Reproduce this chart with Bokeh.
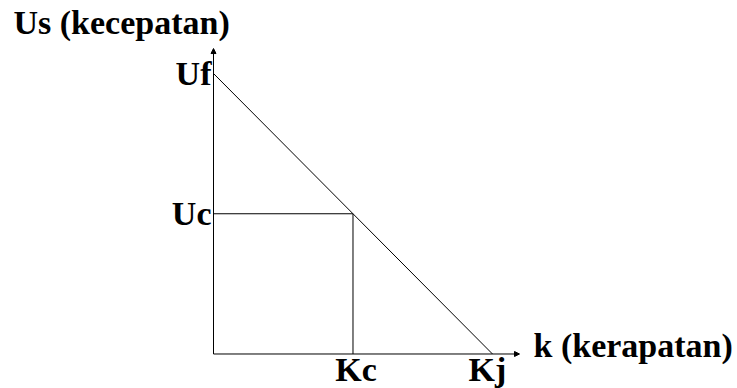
from bokeh.plotting import figure
from bokeh.models import Range1d, Arrow, NormalHead
from bokeh.core.properties import value
from bokeh.embed import file_html
from bokeh.resources import INLINE

# Greenshields speed-density relationship (normalised units)
k_labels = ["Kc", "Kj"]
k_values = [1.0, 2.0]          # Kc, Kj
us_labels = ["Uf", "Uc"]
us_values = [2.0, 1.0]         # Uf, Uc
axis_end_x = 2.1935
axis_end_y = 2.178
x_title = "k (kerapatan)"
y_title = "Us (kecepatan)"

W, H = 737, 388
p = figure(width=W, height=H, output_backend="svg", toolbar_location=None,
           x_range=Range1d(-1.5269, 3.7563), y_range=Range1d(-0.24599, 2.52050),
           min_border=0, min_border_left=0, min_border_right=0,
           min_border_top=0, min_border_bottom=0)
p.axis.visible = False
p.grid.visible = False
p.outline_line_color = None
p.background_fill_color = "white"
p.border_fill_color = "white"

FONT = value("Liberation Serif")
FS = value("34px")
LC = "black"

Kc, Kj = k_values
Uf, Uc = us_values

# axes with arrow heads
for xe, ye in [(axis_end_x, 0), (0, axis_end_y)]:
    p.add_layout(Arrow(end=NormalHead(size=5, fill_color=LC, line_color=LC, line_width=1),
                       x_start=0, y_start=0, x_end=xe, y_end=ye,
                       line_color=LC, line_width=1))

# speed-density line
p.line([0, Kc, Kj], [Uf, Uc, 0], line_color=LC, line_width=1)
# critical point guides
p.line([0, Kc], [Uc, Uc], line_color=LC, line_width=1)
p.line([Kc, Kc], [Uc, 0], line_color=LC, line_width=1)

common = dict(text_font=FONT, text_font_size=FS, text_font_style="bold",
              text_color="black", text_baseline="alphabetic")

# tick-like labels
p.text(x=[0] * len(us_values), y=us_values, text=us_labels,
       text_align="right", x_offset=-2, y_offset=0, **common)
k_label_dx = [3, -5]
for lab, v, dx in zip(k_labels, k_values, k_label_dx):
    p.text(x=[v], y=[0], text=[lab], text_align="center",
           x_offset=dx, y_offset=16, **common)

# axis titles
p.text(x=[axis_end_x], y=[0], text=[x_title], text_align="left",
       x_offset=14, y_offset=-8.5, **common)
p.text(x=[0], y=[axis_end_y], text=[y_title], text_align="left",
       x_offset=-200, y_offset=-26, **common)

open("out.html", "w").write(file_html(p, INLINE))
